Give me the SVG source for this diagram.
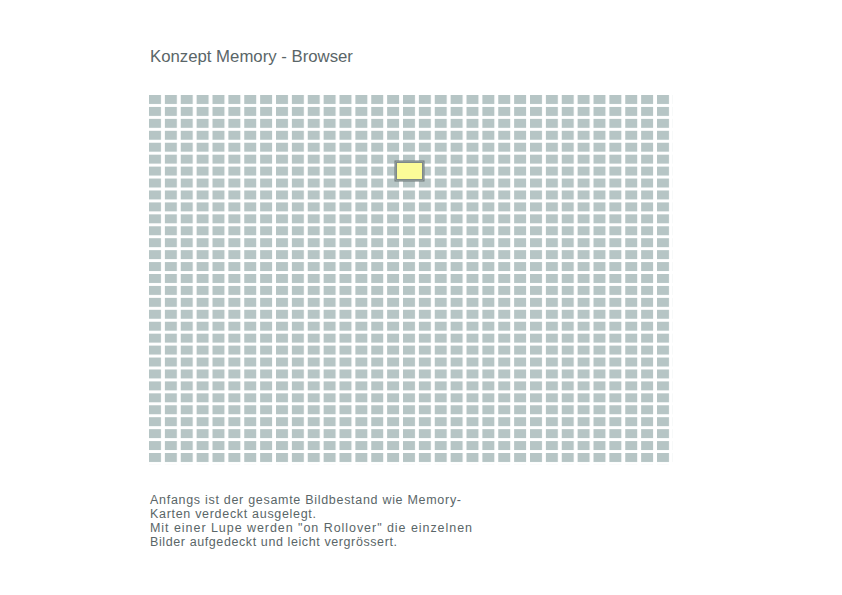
<svg xmlns="http://www.w3.org/2000/svg" width="842" height="595" viewBox="0 0 842 595">
  <style>
    .txt { font-family: "Liberation Sans", Arial, sans-serif; fill: #5a6668; }
    .title { font-size: 16.75px; }
    .body { font-size: 12.5px; }
    .card { fill: #b6c5c5; }
  </style>
  <defs>
    <pattern id="cards" patternUnits="userSpaceOnUse" x="149" y="95" width="15.875" height="11.9333">
      <rect class="card" x="0" y="0" width="12" height="9"/>
    </pattern>
  </defs>
  <rect width="842" height="595" fill="#ffffff"/>
  <text class="txt title" x="150" y="62">Konzept Memory - Browser</text>
  <g id="grid">
    <rect x="149" y="95" width="523.875" height="369.93" fill="url(#cards)"/>
  </g>
  <g id="lupe">
    <rect x="394.5" y="160.5" width="30" height="21" fill="#6e7a7b"/>
    <rect x="395.5" y="161.5" width="28" height="19" fill="#a9b3b3"/>
    <rect x="396.5" y="162.5" width="26" height="17" fill="#fbfb98" stroke="#7d8889" stroke-width="1"/>
  </g>
  <g id="beschreibung">
    <text class="txt body" x="150" y="504" textLength="311" lengthAdjust="spacing">Anfangs ist der gesamte Bildbestand wie Memory-</text>
    <text class="txt body" x="150" y="518" textLength="166" lengthAdjust="spacing">Karten verdeckt ausgelegt.</text>
    <text class="txt body" x="150" y="532" textLength="322" lengthAdjust="spacing">Mit einer Lupe werden "on Rollover" die einzelnen</text>
    <text class="txt body" x="150" y="546" textLength="247" lengthAdjust="spacing">Bilder aufgedeckt und leicht vergrössert.</text>
  </g>
</svg>
